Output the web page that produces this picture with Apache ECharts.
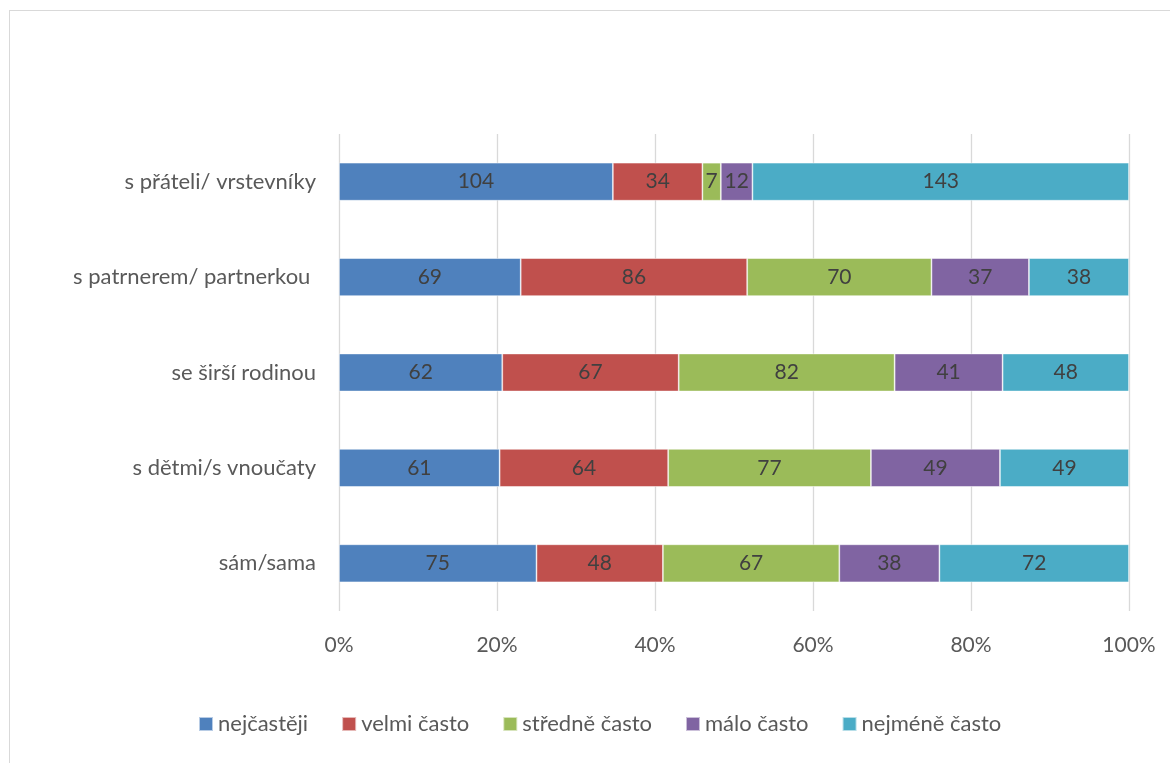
<!DOCTYPE html>
<html>
<head>
<meta charset="utf-8">
<script src="https://cdn.jsdelivr.net/npm/echarts@6/dist/echarts.min.js"></script>
<style>
  html, body { margin: 0; padding: 0; background: #fff; }
  #frame { position: absolute; left: 9px; top: 10px; width: 1170px; height: 770px;
           border-left: 1.5px solid #d9d9d9; border-top: 1.5px solid #d9d9d9; box-sizing: border-box; }
  #chart { position: absolute; left: 0; top: 0; width: 1170px; height: 763px; }
</style>
</head>
<body>
<div id="frame"></div>
<div id="chart"></div>
<script>
// Categories, bottom to top as drawn on the vertical axis
const categories = ['sám/sama', 's dětmi/s vnoučaty', 'se širší rodinou', 's patrnerem/ partnerkou ', 's přáteli/ vrstevníky'];
const seriesNames = ['nejčastěji', 'velmi často', 'středně často', 'málo často', 'nejméně často'];
const nejcasteji = [75, 61, 62, 69, 104];
const velmiCasto = [48, 64, 67, 86, 34];
const stredneCasto = [67, 77, 82, 70, 7];
const maloCasto = [38, 49, 41, 37, 12];
const nejmeneCasto = [72, 49, 48, 38, 143];
const tickLabels = ['0%', '20%', '40%', '60%', '80%', '100%'];
const colors = ['#4f81bd', '#c0504d', '#9bbb59', '#8064a2', '#4bacc6'];

const allValues = [nejcasteji, velmiCasto, stredneCasto, maloCasto, nejmeneCasto];
const totals = categories.map((_, i) => allValues.reduce((s, arr) => s + arr[i], 0));

const font = 'Lato, "Open Sans", sans-serif';

const series = allValues.map((arr, k) => ({
  name: seriesNames[k],
  type: 'bar',
  stack: 'total',
  barWidth: 38,
  itemStyle: { color: colors[k], borderColor: 'rgba(255,255,255,0.6)', borderWidth: 0.8 },
  label: {
    show: true,
    position: 'inside',
    color: '#404040',
    fontFamily: font,
    fontSize: 21,
    formatter: p => arr[p.dataIndex]
  },
  data: arr.map((v, i) => v / totals[i] * 100)
}));

const chart = echarts.init(document.getElementById('chart'), null, { renderer: 'canvas' });
chart.setOption({
  animation: false,
  color: colors,
  grid: { left: 339, right: 41, top: 134, bottom: 152, containLabel: false },
  xAxis: {
    type: 'value',
    min: 0, max: 100, interval: 20,
    axisLine: { show: false },
    axisTick: { show: false },
    splitLine: { show: true, lineStyle: { color: '#d9d9d9', width: 1.3 } },
    axisLabel: {
      color: '#595959', fontFamily: font, fontSize: 21, margin: 24,
      formatter: v => tickLabels[Math.round(v / 20)]
    }
  },
  yAxis: {
    type: 'category',
    data: categories,
    axisLine: { show: false },
    axisTick: { show: false },
    axisLabel: { color: '#595959', fontFamily: font, fontSize: 22, margin: 23 }
  },
  legend: {
    bottom: 23,
    left: 193,
    itemWidth: 14, itemHeight: 14, itemGap: 33,
    icon: 'rect',
    textStyle: { color: '#595959', fontFamily: font, fontSize: 22 },
    data: seriesNames
  },
  series: series
});
</script>
</body>
</html>
